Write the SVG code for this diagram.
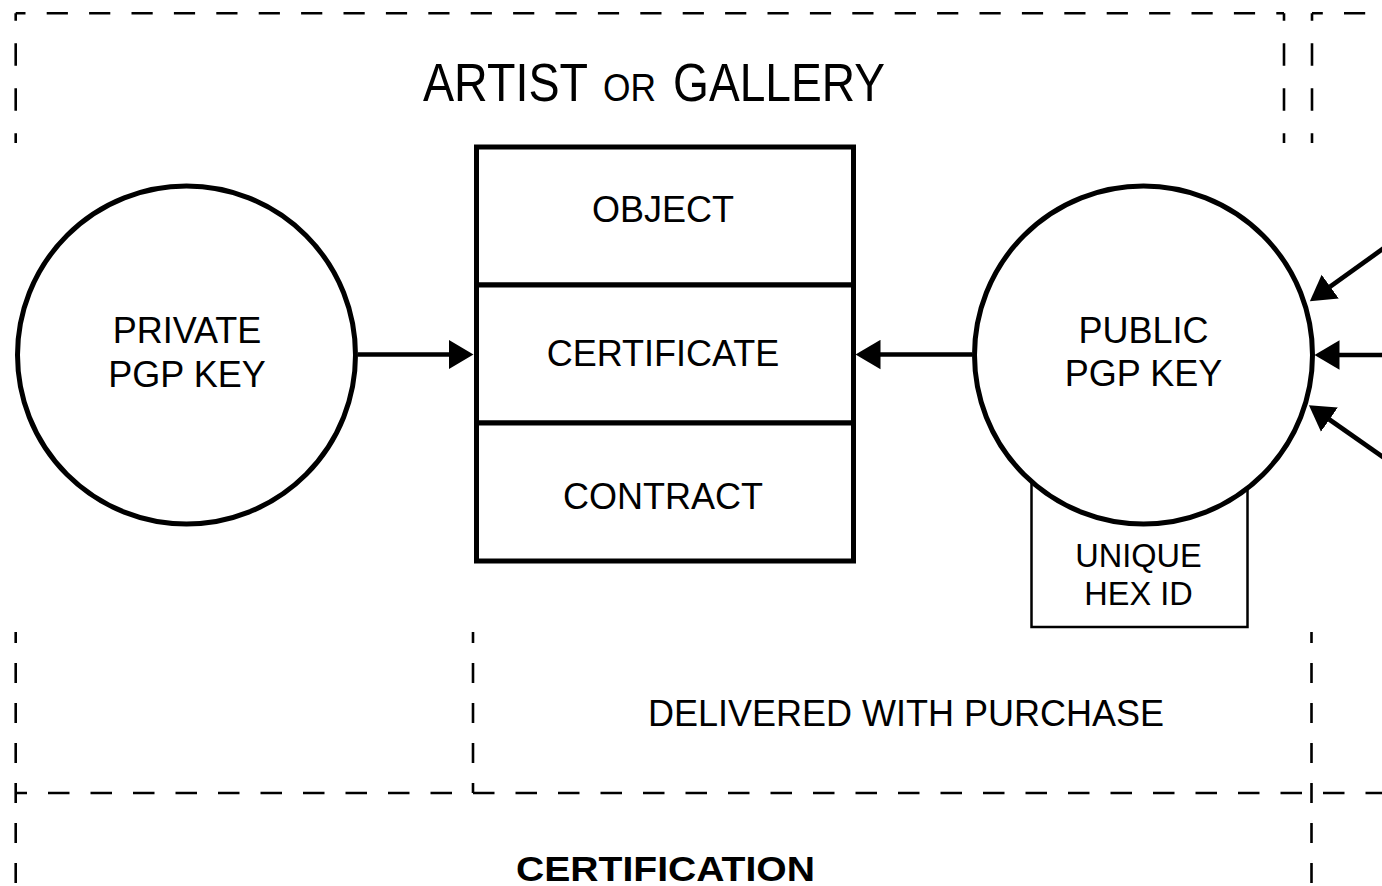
<svg xmlns="http://www.w3.org/2000/svg" width="1382" height="886" viewBox="0 0 1382 886">
<style>
  text { font-family: "Liberation Sans", Arial, Helvetica, sans-serif; fill: #000; }
  .lbl { font-size: 36px; text-anchor: middle; }
  .small { font-size: 32.5px; text-anchor: middle; }
  .dash { fill: none; stroke: #000; stroke-width: 2.6; }
  .dh { stroke-dasharray: 21.2 21.2; }
  .dv1 { stroke-dasharray: 22.5 22.5; stroke-dashoffset: 15; }
  .dv2 { stroke-dasharray: 20 20; stroke-dashoffset: 9; }
  .thick { fill: #fff; stroke: #000; stroke-width: 5; }
  .thin { fill: #fff; stroke: #000; stroke-width: 2.5; }
  .conn { fill: none; stroke: #000; stroke-width: 4.7; marker-end: url(#block); }
</style>
<defs>
  <marker id="block" markerUnits="userSpaceOnUse" markerWidth="26" markerHeight="30" viewBox="0 0 26 30" refX="0.5" refY="15" orient="auto">
    <path d="M0,0.3 L25,15 L0,29.7 Z" fill="#000"/>
  </marker>
</defs>

<g id="containers">
  <g id="artist-or-gallery">
    <line class="dash dh" x1="15.7" y1="13.3" x2="1284" y2="13.3" stroke-dashoffset="11.4"/>
    <line class="dash dv1" x1="15.7" y1="13.3" x2="15.7" y2="143"/>
    <line class="dash dv1" x1="1284" y1="13.3" x2="1284" y2="143"/>
    <text x="423" y="101" font-size="53" textLength="165" lengthAdjust="spacingAndGlyphs">ARTIST</text>
    <text x="603" y="101" font-size="38" textLength="53" lengthAdjust="spacingAndGlyphs">OR</text>
    <text x="673" y="101" font-size="53" textLength="212" lengthAdjust="spacingAndGlyphs">GALLERY</text>
  </g>
  <g id="right-container">
    <line class="dash dh" x1="1312" y1="13.3" x2="1390" y2="13.3" stroke-dashoffset="10.4"/>
    <line class="dash dv1" x1="1312" y1="13.3" x2="1312" y2="143"/>
  </g>
  <g id="delivered-with-purchase">
    <line class="dash dv2" x1="473" y1="632" x2="473" y2="793"/>
    <text class="lbl" x="906" y="726">DELIVERED WITH PURCHASE</text>
  </g>
  <g id="certification">
    <line class="dash dv2" x1="15.7" y1="632" x2="15.7" y2="890"/>
    <line class="dash dv2" x1="1311.5" y1="632" x2="1311.5" y2="890"/>
    <line class="dash" x1="15.7" y1="793" x2="1390" y2="793" stroke-dasharray="21.5 21" stroke-dashoffset="10.2"/>
    <text x="516" y="881" font-size="35" font-weight="bold" textLength="299" lengthAdjust="spacingAndGlyphs">CERTIFICATION</text>
  </g>
</g>

<g id="connectors">
  <line class="conn" x1="358" y1="354.5" x2="449" y2="354.5"/>
  <line class="conn" x1="972" y1="354.5" x2="880" y2="354.5"/>
  <line class="conn" x1="1400" y1="355" x2="1339" y2="355"/>
  <line class="conn" x1="1430" y1="215" x2="1329.8" y2="286.9"/>
  <line class="conn" x1="1430" y1="490" x2="1329" y2="419.3"/>
</g>

<g id="private-key">
  <circle class="thick" cx="186.5" cy="355" r="169"/>
  <text class="lbl" x="187" y="343">PRIVATE</text>
  <text class="lbl" x="187" y="386.5">PGP KEY</text>
</g>

<g id="object">
  <rect class="thick" x="476.5" y="147" width="377" height="138"/>
  <text class="lbl" x="663" y="221.5">OBJECT</text>
</g>
<g id="certificate">
  <rect class="thick" x="476.5" y="285" width="377" height="138"/>
  <text class="lbl" x="663" y="366">CERTIFICATE</text>
</g>
<g id="contract">
  <rect class="thick" x="476.5" y="423" width="377" height="138"/>
  <text class="lbl" x="663" y="509">CONTRACT</text>
</g>

<g id="unique-hex-id">
  <rect class="thin" x="1031.5" y="470" width="216" height="157"/>
  <text class="small" x="1138.5" y="566.5">UNIQUE</text>
  <text class="small" x="1138.5" y="605">HEX ID</text>
</g>

<g id="public-key">
  <circle class="thick" cx="1143.5" cy="355" r="169"/>
  <text class="lbl" x="1143.5" y="342.5">PUBLIC</text>
  <text class="lbl" x="1143.5" y="386">PGP KEY</text>
</g>
</svg>
